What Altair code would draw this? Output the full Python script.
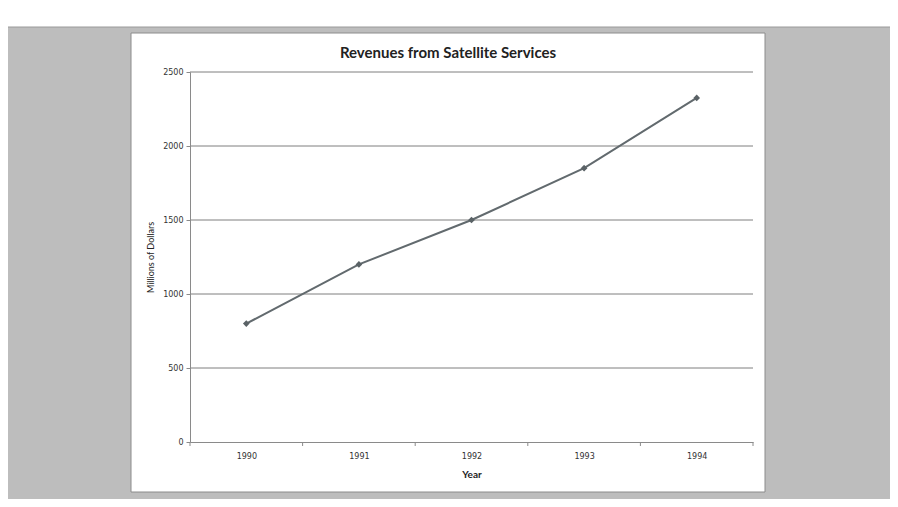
import altair as alt
import pandas as pd

years = [1990, 1991, 1992, 1993, 1994]
revenue = [800, 1200, 1500, 1850, 2325]
grid_values = [500, 1000, 1500, 2000, 2500]
y_ticks = [0, 500, 1000, 1500, 2000, 2500]
x_boundaries = [1989.5, 1990.5, 1991.5, 1992.5, 1993.5, 1994.5]
title_text = ["Revenues from Satellite Services"]

df = pd.DataFrame({"Year": years, "Revenue": revenue})
grid_df = pd.DataFrame({"g": grid_values})
bound_df = pd.DataFrame({"b": x_boundaries})
one = pd.DataFrame({"a": [0]})
title_df = pd.DataFrame({"t": title_text})

x_scale = alt.Scale(domain=[1989.5, 1994.5], nice=False, zero=False)
y_scale = alt.Scale(domain=[0, 2500], nice=False)

x_axis = alt.Axis(
    title="Year", values=years, format="d", labelOverlap=False,
    grid=False, ticks=False, domainColor="#8a8a8a",
    labelFont="DejaVu Sans", labelFontSize=8, labelColor="#333333", labelPadding=10,
    titleFont="Lato", titleFontSize=10, titleFontWeight="bold", titleColor="#222222",
    titlePadding=9, zindex=1,
)
y_axis = alt.Axis(
    title="Millions of Dollars", values=y_ticks, format="d", grid=False, labelOverlap=False,
    tickSize=4, tickColor="#8a8a8a", domainColor="#8a8a8a",
    labelFont="DejaVu Sans", labelFontSize=8, labelColor="#333333", labelPadding=3,
    titleFont="Lato", titleFontSize=9, titleFontWeight="normal", titleColor="#222222",
    titleX=-40, titleY=185, titleAlign="center", titleBaseline="middle", titleAngle=-90,
    zindex=1,
)

top_strip = alt.Chart(one).mark_rect(fill="white", stroke="#9a9a9a", strokeWidth=1).encode(
    x=alt.value(-200), x2=alt.value(720), y=alt.value(-80), y2=alt.value(-45)
)
chart_box = alt.Chart(one).mark_rect(fill="white", stroke="#8c8c8c", strokeWidth=1).encode(
    x=alt.value(-59), x2=alt.value(575), y=alt.value(-39), y2=alt.value(420)
)
title = alt.Chart(title_df).mark_text(
    font="Lato", fontSize=15, fontWeight="bold", color="#222222",
    align="center", baseline="middle",
).encode(text="t:N", x=alt.value(258), y=alt.value(-19))
grid = alt.Chart(grid_df).mark_rule(color="#7f7f7f", strokeWidth=1).encode(
    y=alt.Y("g:Q", scale=y_scale, axis=y_axis),
    x=alt.value(0), x2=alt.value(563),
)
xticks = alt.Chart(bound_df).mark_rule(color="#8a8a8a", strokeWidth=1).encode(
    x=alt.X("b:Q", scale=x_scale, axis=x_axis),
    y=alt.value(370), y2=alt.value(374),
)
line = alt.Chart(df).mark_line(color="#626a6e", strokeWidth=2).encode(
    x=alt.X("Year:Q", scale=x_scale, axis=x_axis),
    y=alt.Y("Revenue:Q", scale=y_scale, axis=y_axis),
)
points = alt.Chart(df).mark_point(shape="diamond", filled=True, size=45,
                                  color="#5a6266", opacity=1).encode(
    x=alt.X("Year:Q", scale=x_scale, axis=x_axis),
    y=alt.Y("Revenue:Q", scale=y_scale, axis=y_axis),
)

chart = alt.layer(top_strip, chart_box, title, grid, xticks, line, points).properties(
    width=563, height=370,
    background="#bdbdbd",
    autosize=alt.AutoSizeParams(type="none"),
    padding={"left": 182, "top": 64, "right": 137, "bottom": 57},
).configure_view(stroke=None)

chart.save("out.html", embed_options={"renderer": "svg", "actions": False})
